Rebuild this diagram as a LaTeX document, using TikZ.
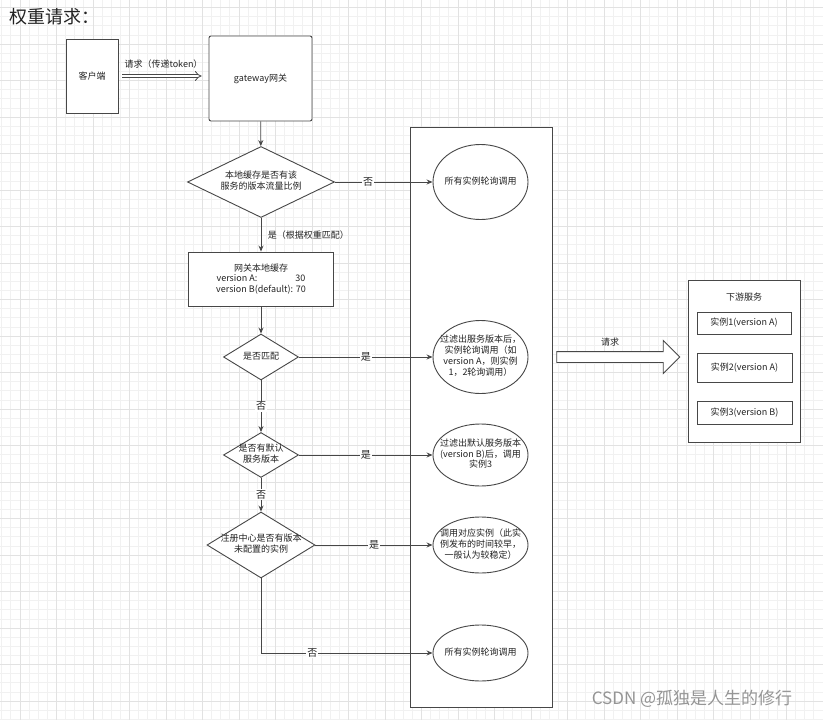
\documentclass[tikz,border=0pt]{standalone}
\usepackage{fontspec}
\setmainfont{Noto Sans CJK SC}
\newfontfamily\cjk{Noto Sans CJK SC}
\usetikzlibrary{positioning, arrows.meta, shapes.geometric, shapes.arrows}
\definecolor{linegray}{HTML}{474747}
\definecolor{textgray}{HTML}{222222}
\definecolor{minorgray}{HTML}{F1F1F1}
\definecolor{majorgray}{HTML}{E2E2E2}
\definecolor{markgray}{HTML}{959595}
\tikzset{box/.style={draw=linegray,fill=white,line width=0.9pt,inner sep=0pt}}
\tikzset{rhomb/.style={diamond,draw=linegray,fill=white,line width=0.9pt,inner sep=0pt}}
\tikzset{oval/.style={ellipse,draw=linegray,fill=white,line width=0.9pt,inner sep=0pt,minimum width=95pt}}
\tikzset{link/.style={draw=linegray,line width=0.9pt,-{Stealth[length=6pt,width=5pt]}}}
\tikzset{elabel/.style={midway,fill=white,inner sep=1pt,font=\cjk\fontsize{10}{12}\selectfont}}
\tikzset{fatarrow/.style={single arrow,draw=linegray,fill=white,line width=0.9pt,inner xsep=0pt,inner ysep=5pt,single arrow head extend=11pt}}
\newcommand{\flattext}[1]{\smash{\makebox[0pt]{\raisebox{-2.2pt}{\begin{tabular}{@{}c@{}}#1\end{tabular}}}}}

\begin{document}
\begin{tikzpicture}[
                x = 1pt, y = -1pt,
                every node/.style={font=\cjk\fontsize{9}{10.8}\selectfont,text=textgray}
            ]
                \useasboundingbox (0,0) rectangle (823,720);
                \fill[white] (0,0) rectangle (823,720);
                % background grid
                \begin{scope}
                    \clip (0,0) rectangle (823,720);
                    \foreach \i in {0,...,90}
                        \draw[minorgray,line width=0.8pt] (1.75+\i*9.125,0) -- (1.75+\i*9.125,720);
                    \foreach \i in {0,...,80}
                        \draw[minorgray,line width=0.8pt] (0,-1.6+\i*9.125) -- (823,-1.6+\i*9.125);
                    \foreach \i in {0,...,23}
                        \draw[majorgray,line width=0.8pt] (-16.5+\i*36.5,0) -- (-16.5+\i*36.5,720);
                    \foreach \i in {0,...,20}
                        \draw[majorgray,line width=0.8pt] (0,7.5+\i*36.5) -- (823,7.5+\i*36.5);
                \end{scope}

                \node[anchor=west,font=\cjk\fontsize{18}{20}\selectfont] (title) at (6,17) {权重请求：};

                \node[box,minimum width=52pt,minimum height=74pt] (client) at (92,76) {客户端};
                \node[box,rounded corners=2pt,minimum width=103pt,minimum height=85pt] (gw) at (260.5,78.5) {gateway网关};
                \node[box,minimum width=142pt,minimum height=580pt] (pool) at (481,417) {};

                \node[rhomb,minimum width=147pt,minimum height=71pt] (q1) at (261,182) {\flattext{本地缓存是否有该\\服务的版本流量比例}};
                \node[box,minimum width=145pt,minimum height=54pt,align=center] (cache) at (261,279) {网关本地缓存\\version A:\hspace{38pt}30\\version B(default): 70};
                \node[rhomb,minimum width=75pt,minimum height=46pt] (q2) at (261,357) {\flattext{是否匹配}};
                \node[rhomb,minimum width=75pt,minimum height=45pt] (q3) at (261,455) {\flattext{是否有默认\\服务版本}};
                \node[rhomb,minimum width=108pt,minimum height=66pt] (q4) at (261,545) {\flattext{注册中心是否有版本\\未配置的实例}};

                \node[oval,minimum height=75pt] (r1) at (480.5,182) {\flattext{所有实例轮询调用}};
                \node[oval,minimum height=73pt] (r2) at (480.5,357) {\flattext{过滤出服务版本后，\\实例轮询调用（如\\version A，则实例\\1，2轮询调用）}};
                \node[oval,minimum height=62pt] (r3) at (480.5,455) {\flattext{过滤出默认服务版本\\(version B)后，调用\\实例3}};
                \node[oval,minimum height=56pt] (r4) at (480.5,545) {\flattext{调用对应实例（此实\\例发布的时间较早，\\一般认为较稳定）}};
                \node[oval,minimum height=56pt] (r5) at (480.5,653) {\flattext{所有实例轮询调用}};

                \node[box,minimum width=112pt,minimum height=162pt] (down) at (744,361) {};
                \node[below=10pt of down.north] (downtitle) {下游服务};
                \node[box,minimum width=94pt,minimum height=22pt] (i1) at (744,323) {实例1(version A)};
                \node[box,minimum width=95pt,minimum height=29pt] (i2) at (744.5,367.5) {实例2(version A)};
                \node[box,minimum width=95pt,minimum height=23pt] (i3) at (744.5,412.5) {实例3(version B)};

                \node[fatarrow,minimum height=123pt] (req) at (615.5,357) {};
                \node[] (reqlabel) at (610,342) {请求};

                \node[font=\cjk\fontsize{17}{19}\selectfont,text=markgray] (mark) at (692,699) {CSDN @孤独是人生的修行};

                \draw[draw=linegray,line width=0.8pt,double=white,double distance=2.6pt,-{Implies},shorten <=4pt,shorten >=7pt]
                    (client.east) -- node[above=4pt]{请求（传递token）} (client.east -| gw.west);
                \draw[link] (gw) -- (q1);
                \draw[link] (q1) -- node[elabel,pos=0.34]{否} (r1);
                \draw[link] (q1) -- node[midway,right,xshift=3pt]{是（根据权重匹配）} (cache);
                \draw[link] (cache) -- (q2);
                \draw[link] (q2) -- node[elabel]{是} (r2);
                \draw[link] (q2) -- node[elabel]{否} (q3);
                \draw[link] (q3) -- node[elabel]{是} (r3);
                \draw[link] (q3) -- node[elabel]{否} (q4);
                \draw[link] (q4) -- node[elabel]{是} (r4);
                \draw[link] (q4) |- node[elabel,pos=0.65]{否} (r5);
            \end{tikzpicture}
\end{document}
